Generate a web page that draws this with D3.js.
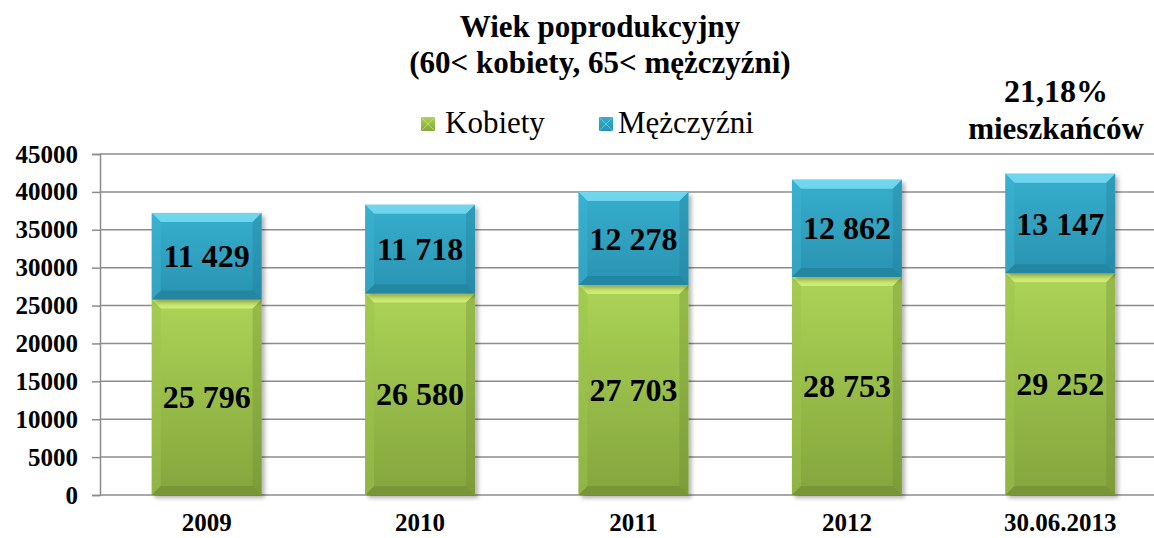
<!DOCTYPE html>
<meta charset="utf-8">
<script src="https://d3js.org/d3.v7.min.js"></script>
<style>
  body { margin: 0; background: #fff; }
</style>
<div id="chart"></div>
<script>

// data
var years = ["2009", "2010", "2011", "2012", "30.06.2013"];
var kobiety = [25796, 26580, 27703, 28753, 29252];
var mezczyzni = [11429, 11718, 12278, 12862, 13147];
var yTicks = [0, 5000, 10000, 15000, 20000, 25000, 30000, 35000, 40000, 45000];
var seriesNames = ["Kobiety", "Mężczyźni"];

var W = 1154, H = 538;
var FONT = "'Liberation Serif', 'Times New Roman', serif";

var svg = d3.select("#chart").append("svg")
  .attr("width", W)
  .attr("height", H)
  .style("font-family", FONT);

var x = d3.scaleBand().domain(years).range([100, 1167]).paddingInner(0.485).paddingOuter(0.2425);
var y = d3.scaleLinear().domain([0, 45000]).range([495, 154]);

var defs = svg.append("defs");
function grad(id, top, bottom) {
  var g = defs.append("linearGradient").attr("id", id)
    .attr("x1", 0).attr("y1", 0).attr("x2", 0).attr("y2", 1);
  g.append("stop").attr("offset", "0%").attr("stop-color", top);
  g.append("stop").attr("offset", "100%").attr("stop-color", bottom);
}
grad("gGreen", "#acd456", "#84a53d");
grad("gBlue", "#36aecd", "#2a93b1");

var shadow = defs.append("filter").attr("id", "shadow")
  .attr("x", "-10%").attr("y", "-10%").attr("width", "130%").attr("height", "130%");
shadow.append("feDropShadow").attr("dx", 3).attr("dy", 3).attr("stdDeviation", 2)
  .attr("flood-color", "#000").attr("flood-opacity", 0.3);

// gridlines
svg.append("g").selectAll("line").data(yTicks.slice(1)).enter().append("line")
  .attr("x1", 100).attr("x2", W)
  .attr("y1", function(d) { return y(d); }).attr("y2", function(d) { return y(d); })
  .attr("stroke", "#8c8c8c").attr("stroke-width", 1.5);

// y axis
var yAxis = svg.append("g").attr("transform", "translate(100,0)")
  .call(d3.axisLeft(y).tickValues(yTicks).tickSize(8).tickPadding(14).tickFormat(d3.format("d")));
yAxis.attr("font-family", FONT);
yAxis.select(".domain").attr("stroke", "#8c8c8c").attr("stroke-width", 1.5);
yAxis.selectAll(".tick line").attr("stroke", "#8c8c8c").attr("stroke-width", 1.5);
yAxis.selectAll(".tick text")
  .style("font-family", FONT)
  .attr("font-size", 25).attr("font-weight", "bold").attr("fill", "#000");

// x axis baseline
svg.append("line").attr("x1", 100).attr("x2", W).attr("y1", y(0)).attr("y2", y(0))
  .attr("stroke", "#8c8c8c").attr("stroke-width", 1.5);

// stacked data
var stack = years.map(function(yr, i) {
  return [
    { year: yr, y0: 0, y1: kobiety[i], v: kobiety[i], s: 0 },
    { year: yr, y0: kobiety[i], y1: kobiety[i] + mezczyzni[i], v: mezczyzni[i], s: 1 }
  ];
});
var segs = [].concat.apply([], stack);

var fills = ["url(#gGreen)", "url(#gBlue)"];
var lightEdge = ["#d6f27a", "#7ee0f5"];
var sideEdge = ["#9cc44e", "#3bb4d2"];
var darkEdge = ["#6f8c33", "#1f7d98"];
var bev = 9;

var bars = svg.append("g").selectAll("g").data(segs).enter().append("g");

bars.append("rect")
  .attr("x", function(d) { return x(d.year); })
  .attr("y", function(d) { return y(d.y1); })
  .attr("width", x.bandwidth())
  .attr("height", function(d) { return y(d.y0) - y(d.y1); })
  .attr("fill", function(d) { return fills[d.s]; })
  .attr("filter", "url(#shadow)");

// bevel edges
bars.each(function(d) {
  var g = d3.select(this);
  var x0 = x(d.year), x1 = x0 + x.bandwidth();
  var t = y(d.y1), b = y(d.y0);
  g.append("path").attr("d", "M" + x0 + "," + t + "L" + x1 + "," + t + "L" + (x1 - bev) + "," + (t + bev) + "L" + (x0 + bev) + "," + (t + bev) + "Z")
    .attr("fill", lightEdge[d.s]).attr("opacity", 0.8);
  g.append("path").attr("d", "M" + x0 + "," + b + "L" + x1 + "," + b + "L" + (x1 - bev) + "," + (b - bev) + "L" + (x0 + bev) + "," + (b - bev) + "Z")
    .attr("fill", darkEdge[d.s]).attr("opacity", 0.6);
  g.append("path").attr("d", "M" + x0 + "," + t + "L" + (x0 + bev) + "," + (t + bev) + "L" + (x0 + bev) + "," + (b - bev) + "L" + x0 + "," + b + "Z")
    .attr("fill", sideEdge[d.s]).attr("opacity", 0.5);
  g.append("path").attr("d", "M" + x1 + "," + t + "L" + (x1 - bev) + "," + (t + bev) + "L" + (x1 - bev) + "," + (b - bev) + "L" + x1 + "," + b + "Z")
    .attr("fill", darkEdge[d.s]).attr("opacity", 0.35);
});

// value labels
var fmt = function(v) { return d3.format(",")(v).replace(",", " "); };
bars.append("text")
  .attr("x", function(d) { return x(d.year) + x.bandwidth() / 2; })
  .attr("y", function(d) { return (y(d.y0) + y(d.y1)) / 2 + 11; })
  .attr("text-anchor", "middle")
  .attr("font-size", 32).attr("font-weight", "bold")
  .text(function(d) { return fmt(d.v); });

// x labels
svg.append("g").selectAll("text").data(years).enter().append("text")
  .attr("x", function(d) { return x(d) + x.bandwidth() / 2; })
  .attr("y", 531)
  .attr("text-anchor", "middle")
  .attr("font-size", 25).attr("font-weight", "bold")
  .text(function(d) { return d; });

// title
svg.append("text").attr("x", 600).attr("y", 37).attr("text-anchor", "middle")
  .attr("font-size", 31).attr("font-weight", "bold").text("Wiek poprodukcyjny");
svg.append("text").attr("x", 600).attr("y", 73).attr("text-anchor", "middle")
  .attr("font-size", 31).attr("font-weight", "bold").text("(60< kobiety, 65< mężczyźni)");

// legend
var legX = [421, 599];
var legTextX = [24, 19];
var legFill = ["url(#gGreen)", "url(#gBlue)"];
var leg = svg.append("g").selectAll("g").data(seriesNames).enter().append("g")
  .attr("transform", function(d, i) { return "translate(" + legX[i] + ",117)"; });
leg.append("rect").attr("width", 14).attr("height", 14)
  .attr("fill", function(d, i) { return legFill[i]; });
leg.append("path").attr("d", "M0,0L14,14M14,0L0,14").attr("stroke", function(d, i) { return lightEdge[i]; })
  .attr("stroke-width", 1).attr("opacity", 0.6);
leg.append("text").attr("x", function(d, i) { return legTextX[i]; }).attr("y", 16)
  .attr("font-size", 31).text(function(d) { return d; });

// annotation
svg.append("text").attr("x", 1056).attr("y", 102).attr("text-anchor", "middle")
  .attr("font-size", 32).attr("font-weight", "bold").text("21,18%");
svg.append("text").attr("x", 1056).attr("y", 139).attr("text-anchor", "middle")
  .attr("font-size", 31).attr("font-weight", "bold").text("mieszkańców");

</script>
